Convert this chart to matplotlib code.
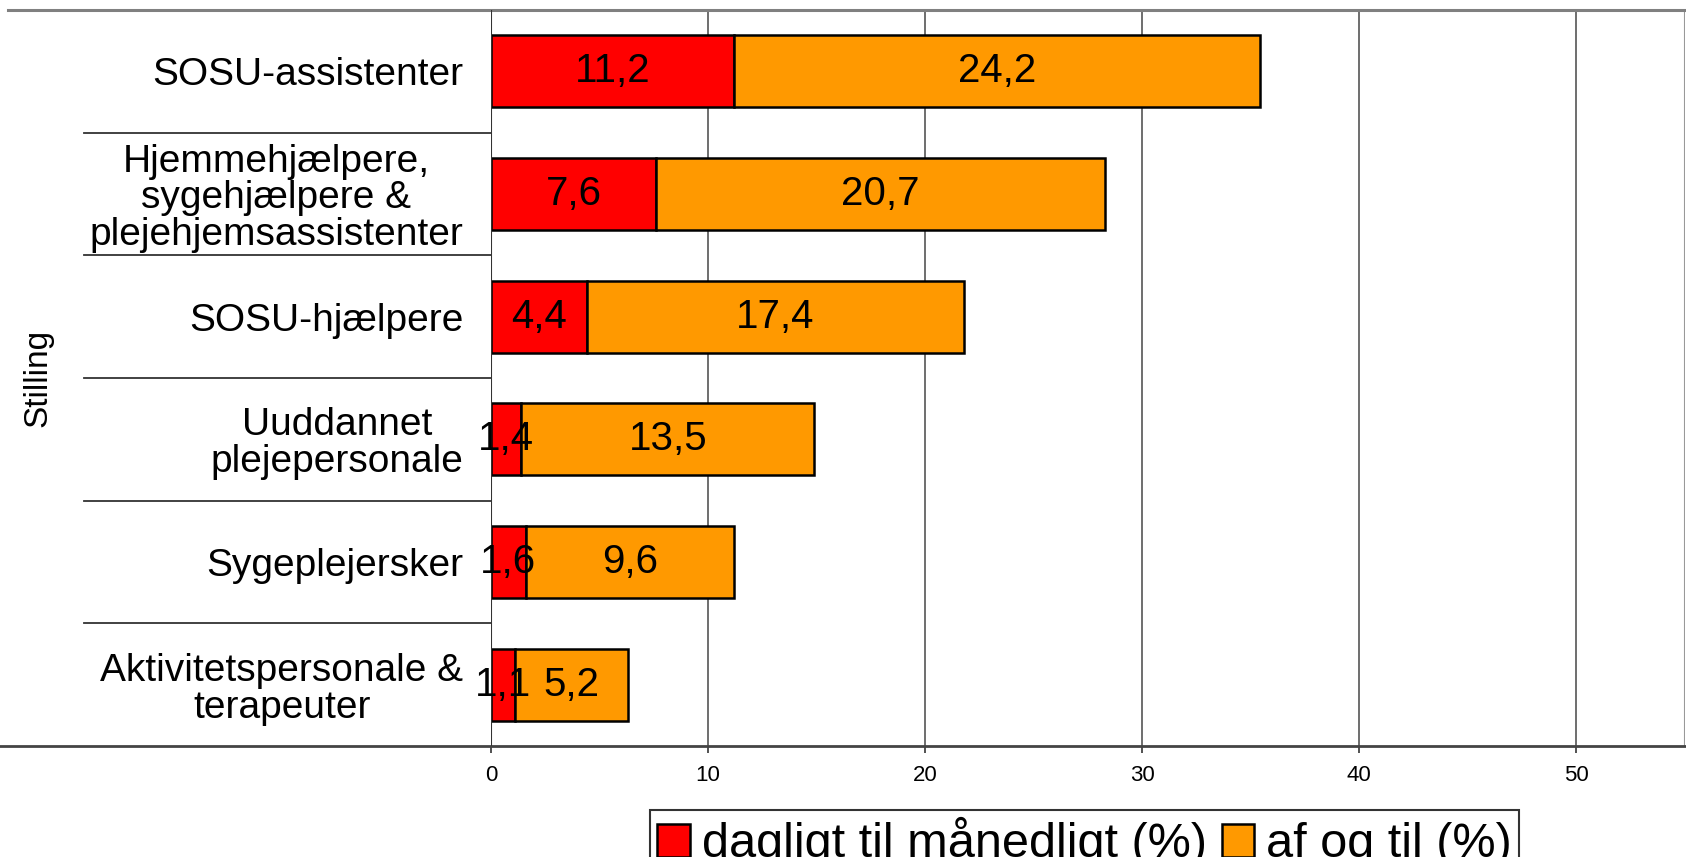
import matplotlib
matplotlib.use("Agg")
import matplotlib.pyplot as plt
from matplotlib.lines import Line2D
import numpy as np

plt.rcParams['font.family'] = ['Liberation Sans', 'DejaVu Sans']

categories = [
    "SOSU-assistenter",
    "Hjemmehjælpere,\nsygehjælpere &\nplejehjemsassistenter",
    "SOSU-hjælpere",
    "Uuddannet\nplejepersonale",
    "Sygeplejersker",
    "Aktivitetspersonale &\nterapeuter",
]
daily_monthly = [11.2, 7.6, 4.4, 1.4, 1.6, 1.1]
now_and_then = [24.2, 20.7, 17.4, 13.5, 9.6, 5.2]
series_names = ["dagligt til månedligt (%)", "af og til (%)"]
x_ticks = [0, 10, 20, 30, 40, 50]
y_title = "Stilling"

W, H = 1686, 857
fig = plt.figure(figsize=(W / 100, H / 100), dpi=100)
ax_left, ax_right, ax_top, ax_bottom = 491, 1685, 10, 746
ax = fig.add_axes([ax_left / W, 1 - ax_bottom / H, (ax_right - ax_left) / W, (ax_bottom - ax_top) / H])

y = np.arange(len(categories))
bh = 0.585
b1 = ax.barh(y, daily_monthly, height=bh, color="#FF0000", edgecolor="black", linewidth=1.8,
             label=series_names[0], zorder=3)
b2 = ax.barh(y, now_and_then, left=daily_monthly, height=bh, color="#FF9900", edgecolor="black",
             linewidth=1.8, label=series_names[1], zorder=3)

fmt = lambda v: f"{v:.1f}".replace(".", ",")
ax.bar_label(b1, labels=[fmt(v) for v in daily_monthly], label_type="center", fontsize=29, zorder=5)
ax.bar_label(b2, labels=[fmt(v) for v in now_and_then], label_type="center", fontsize=29, zorder=5)

ax.set_xlim(0, 55)
ax.set_ylim(len(categories) - 0.5, -0.5)
ax.set_xticks(x_ticks)
ax.set_xticklabels([str(t) for t in x_ticks], fontsize=16)
ax.tick_params(axis="x", length=5, width=1.2, color="#333333", pad=9)
ax.set_yticks(y)
ax.set_yticklabels(categories, fontsize=28, linespacing=1.03)
for t in ax.get_yticklabels():
    t.set_multialignment("center")
ax.tick_params(axis="y", length=0, pad=20)

for xv in x_ticks[1:]:
    ax.axvline(xv, color="#555555", linewidth=1.2, zorder=1)

for side in ["top", "right", "bottom", "left"]:
    ax.spines[side].set_visible(False)
ax.axvline(0, color="#333333", linewidth=1.5, zorder=4)
ax.axvline(55, color="#999999", linewidth=1.5, zorder=1)

trans = ax.get_yaxis_transform()
x_sep = (84 - ax_left) / (ax_right - ax_left)
for k in range(1, len(categories)):
    ax.add_line(Line2D([x_sep, 0], [k - 0.5, k - 0.5], transform=trans, color="#333333",
                       linewidth=1.3, clip_on=False))
x_top = (8 - ax_left) / (ax_right - ax_left)
ax.add_line(Line2D([x_top, 1], [-0.5, -0.5], transform=trans, color="#808080",
                   linewidth=2.2, clip_on=False))
x_bot = (0 - ax_left) / (ax_right - ax_left)
ax.add_line(Line2D([x_bot, 1], [len(categories) - 0.5] * 2, transform=trans, color="#444444",
                   linewidth=2.0, clip_on=False))

fig.text(38 / W, 1 - 378 / H, y_title, rotation=90, fontsize=24, ha="center", va="center")

leg = fig.legend(handles=[b1, b2], labels=series_names, loc="upper left",
                 bbox_to_anchor=(650 / W, 1 - 810 / H), ncol=2, fontsize=35,
                 frameon=True, fancybox=False, edgecolor="black", borderpad=0.15,
                 handlelength=0.67, handleheight=0.67, handletextpad=0.25,
                 columnspacing=0.3, borderaxespad=0)
leg.get_frame().set_linewidth(1.5)

fig.savefig("out.png", dpi=100)
